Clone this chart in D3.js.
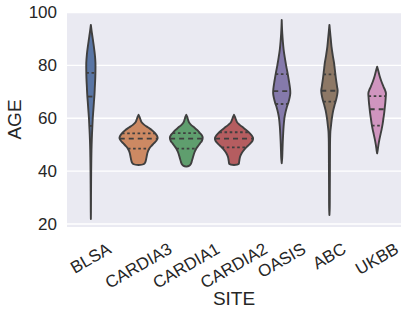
<!DOCTYPE html>
<html>
<head>
<meta charset="utf-8">
<script src="https://cdn.jsdelivr.net/npm/d3@7"></script>
<style>
  html, body { margin: 0; padding: 0; background: #ffffff; }
  svg { display: block; }
  text { font-family: "Liberation Sans", Arial, sans-serif; fill: #262626; }
</style>
</head>
<body>
<script>
// ---- data ----
const sites = ["BLSA", "CARDIA3", "CARDIA1", "CARDIA2", "OASIS", "ABC", "UKBB"];
const yTicks = [20, 40, 60, 80, 100];
const colors = ["#5975a4", "#cc8963", "#5f9e6e", "#b55d60", "#857aab", "#8d7866", "#d095bf"];

// density profiles: [age, relative density] (area-scaled across violins)
const densBLSA = [[95.3,0],[93,0.04],[90,0.1],[87,0.16],[84,0.21],[81,0.24],[78,0.24],[75,0.23],[72,0.21],[69,0.19],[66,0.16],[63,0.13],[60,0.1],[57,0.08],[54,0.06],[51,0.045],[48,0.033],[44,0.024],[40,0.017],[35,0.012],[30,0.008],[25,0.005],[21.9,0]];
const densCARDIA3 = [[61.3,0],[60.5,0.05],[59.5,0.1],[58.5,0.16],[57.5,0.3],[56.5,0.5],[55.5,0.7],[54.5,0.85],[53.3,0.97],[52.5,1.0],[51.5,0.93],[50.5,0.8],[49.5,0.67],[48.5,0.56],[47.5,0.49],[46.5,0.45],[45,0.41],[44,0.38],[43.2,0.34],[42.6,0.25],[42.3,0]];
const densCARDIA1 = [[61.3,0],[60.5,0.05],[59.5,0.09],[58.5,0.14],[57.5,0.25],[56.5,0.42],[55.5,0.58],[54.5,0.7],[53.5,0.82],[52.7,0.86],[51.5,0.82],[50.5,0.72],[49.5,0.62],[48.5,0.52],[47.5,0.45],[46.5,0.4],[45.5,0.36],[44.5,0.32],[43.5,0.28],[42.5,0.22],[42,0.14],[41.7,0]];
const densCARDIA2 = [[61.3,0],[60.5,0.05],[59.5,0.1],[58.5,0.16],[57.5,0.3],[56.5,0.48],[55.5,0.65],[54.5,0.8],[53.5,0.93],[52.5,1.0],[51.5,0.97],[50.5,0.86],[49.5,0.72],[48.5,0.58],[47.5,0.47],[46.5,0.38],[45.5,0.32],[44.5,0.29],[43.5,0.27],[42.7,0.24],[42.3,0]];
const densOASIS = [[97.2,0],[95,0.01],[92,0.03],[89,0.06],[86,0.1],[83,0.16],[80,0.23],[77,0.31],[74,0.38],[71,0.44],[69.5,0.45],[68,0.42],[66,0.35],[64,0.26],[62,0.19],[60,0.14],[57,0.1],[54,0.075],[51,0.055],[48,0.04],[45,0.025],[43,0]];
const densABC = [[95.3,0],[93,0.03],[90,0.07],[87,0.11],[84,0.17],[81,0.24],[78,0.29],[75,0.34],[72,0.4],[70.5,0.43],[69,0.41],[67,0.35],[65,0.27],[63,0.2],[61,0.15],[59,0.11],[57,0.08],[55,0.05],[52,0.035],[48,0.03],[40,0.025],[32,0.02],[26,0.015],[23.4,0]];
const densUKBB = [[79.5,0],[78,0.06],[76,0.13],[74,0.22],[72,0.33],[70.5,0.42],[69.5,0.46],[68,0.45],[66,0.43],[64,0.4],[62,0.37],[60,0.33],[58,0.29],[56,0.24],[54,0.18],[52,0.12],[50,0.07],[48,0.03],[46.7,0]];
const densities = [densBLSA, densCARDIA3, densCARDIA1, densCARDIA2, densOASIS, densABC, densUKBB];

// quartiles: [Q1, median, Q3]
const quartiles = [
  [57.1, 68.2, 77.2],
  [48.5, 52.3, 54.3],
  [48.5, 52.3, 54.4],
  [49.0, 52.3, 54.7],
  [65.4, 70.3, 76.7],
  [66.3, 70.4, 76.6],
  [57.2, 63.4, 68.4]
];

// ---- layout ----
const W = 408, H = 315;
const plot = { left: 67, right: 401, top: 12, bottom: 227 };
const tickFont = 17;

const svg = d3.select("body").append("svg").attr("width", W).attr("height", H);

const x = d3.scaleBand().domain(sites).range([plot.left, plot.right]).paddingInner(0).paddingOuter(0);
const y = d3.scaleLinear().domain([18.87, 100.19]).range([plot.bottom, plot.top]);
const halfMax = x.bandwidth() * 0.4;
const wScale = d3.scaleLinear().domain([0, 1]).range([0, halfMax]);

// background
svg.append("rect").attr("x", plot.left).attr("y", plot.top)
  .attr("width", plot.right - plot.left).attr("height", plot.bottom - plot.top)
  .attr("fill", "#eaeaf2");

// grid
svg.append("g").selectAll("line").data(yTicks).join("line")
  .attr("x1", plot.left).attr("x2", plot.right)
  .attr("y1", d => y(d)).attr("y2", d => y(d))
  .attr("stroke", "#ffffff").attr("stroke-width", 1.3);

// y axis
const yAxis = d3.axisLeft(y).tickValues(yTicks).tickSize(0).tickPadding(10);
const gy = svg.append("g").attr("transform", `translate(${plot.left},0)`).call(yAxis);
gy.select(".domain").remove();
gy.selectAll("text").style("font-size", tickFont + "px").attr("fill", "#262626")
  .style("font-family", '"Liberation Sans", Arial, sans-serif');

// violins
const gray = "#3f3f3f";
function interp(dens, age) {
  for (let i = 0; i < dens.length - 1; i++) {
    const a = dens[i], b = dens[i + 1];
    if ((age <= a[0] && age >= b[0])) {
      const t = (a[0] - age) / (a[0] - b[0]);
      return a[1] + t * (b[1] - a[1]);
    }
  }
  return 0;
}

sites.forEach((s, i) => {
  const cx = x(s) + x.bandwidth() / 2;
  const dens = densities[i];
  const area = d3.area()
    .y(d => y(d[0]))
    .x0(d => cx - wScale(d[1]))
    .x1(d => cx + wScale(d[1]))
    .curve(d3.curveCatmullRom.alpha(0.5));
  const g = svg.append("g");
  g.append("path").datum(dens).attr("d", area)
    .attr("fill", colors[i]).attr("stroke", gray).attr("stroke-width", 1.9)
    .attr("stroke-linejoin", "round");
  quartiles[i].forEach((q, k) => {
    const hw = wScale(interp(dens, q));
    g.append("line")
      .attr("x1", cx - hw).attr("x2", cx + hw)
      .attr("y1", y(q)).attr("y2", y(q))
      .attr("stroke", gray).attr("stroke-width", 1.8)
      .attr("stroke-dasharray", k === 1 ? "5,4" : "2.6,2.6");
  });
});

// x tick labels (rotated 30deg, centered)
const labelTop = 239;
const gx = svg.append("g");
sites.forEach(s => {
  const cx = x(s) + x.bandwidth() / 2;
  const t = gx.append("text").text(s).style("font-size", tickFont + "px")
    .attr("text-anchor", "middle").attr("dominant-baseline", "central");
  const w = t.node().getComputedTextLength();
  const h = tickFont * 1.15;
  const bh = w * Math.sin(Math.PI / 6) + h * Math.cos(Math.PI / 6);
  t.attr("transform", `translate(${cx},${labelTop + bh / 2}) rotate(-30)`);
});

// axis labels
svg.append("text").text("SITE")
  .attr("x", (plot.left + plot.right) / 2).attr("y", 305)
  .attr("text-anchor", "middle").style("font-size", "19px");
svg.append("text").text("AGE")
  .attr("transform", `translate(21,${(plot.top + plot.bottom) / 2}) rotate(-90)`)
  .attr("text-anchor", "middle").style("font-size", "19px");
</script>
</body>
</html>
